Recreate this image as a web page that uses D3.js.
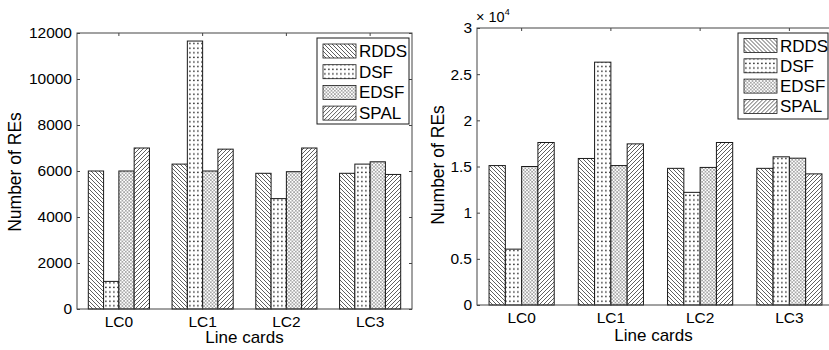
<!DOCTYPE html>
<html>
<head>
<meta charset="utf-8">
<script src="https://cdn.jsdelivr.net/npm/d3@7"></script>
<style>
  body { margin: 0; background: #fff; }
  svg { display: block; font-family: "Liberation Sans", Arial, sans-serif; }
</style>
</head>
<body>
<svg id="chart" width="829" height="350"></svg>
<script>
// data
var categories = ["LC0", "LC1", "LC2", "LC3"];
var seriesNames = ["RDDS", "DSF", "EDSF", "SPAL"];

// left panel
var rddsLeft = [6000, 6300, 5900, 5900];
var dsfLeft = [1200, 11650, 4800, 6300];
var edsfLeft = [6000, 6000, 5970, 6400];
var spalLeft = [7000, 6950, 7000, 5850];
var ticksLeft = [0, 2000, 4000, 6000, 8000, 10000, 12000];

// right panel (x 10^4)
var rddsRight = [15100, 15870, 14800, 14800];
var dsfRight = [6050, 26300, 12200, 16050];
var edsfRight = [15000, 15100, 14900, 15900];
var spalRight = [17600, 17450, 17600, 14200];
var ticksRight = [0, 5000, 10000, 15000, 20000, 25000, 30000];

var svg = d3.select("#chart");
var defs = svg.append("defs");
var ink = "#1a1a1a";

// hatch patterns
function hatch(id, d, size, width, color) {
    var p = defs.append("pattern")
        .attr("id", id)
        .attr("patternUnits", "userSpaceOnUse")
        .attr("width", size).attr("height", size);
    p.append("rect").attr("width", size).attr("height", size).attr("fill", "#fff");
    d.forEach(function(path) {
        p.append("path").attr("d", path)
            .attr("stroke", color).attr("stroke-width", width).attr("fill", "none");
    });
    return p;
}
// RDDS: back slash
hatch("pRDDS", ["M0,0 L4,4", "M-1,3 L1,5", "M3,-1 L5,1"], 4, 0.7, ink);
// SPAL: forward slash
hatch("pSPAL", ["M0,4 L4,0", "M-1,1 L1,-1", "M3,5 L5,3"], 4, 0.7, ink);
// EDSF: dense cross hatch
hatch("pEDSF", ["M0,0 L3.4,3.4", "M0,3.4 L3.4,0"], 3.4, 0.5, "#666");
// DSF: dots
var dots = defs.append("pattern")
    .attr("id", "pDSF")
    .attr("patternUnits", "userSpaceOnUse")
    .attr("width", 4).attr("height", 4.6);
dots.append("rect").attr("width", 4).attr("height", 4.6).attr("fill", "#fff");
dots.append("rect").attr("x", 1.2).attr("y", 1.5).attr("width", 1.4).attr("height", 1.4).attr("fill", ink);

var fills = {RDDS: "url(#pRDDS)", DSF: "url(#pDSF)", EDSF: "url(#pEDSF)", SPAL: "url(#pSPAL)"};

function drawPanel(cfg) {
    var g = svg.append("g");
    var series = [cfg.rdds, cfg.dsf, cfg.edsf, cfg.spal];

    var x0 = d3.scaleBand()
        .domain(categories)
        .range([cfg.left, cfg.right])
        .padding(0);
    var groupW = x0.bandwidth() * 0.73;
    var x1 = d3.scaleBand()
        .domain(seriesNames)
        .range([0, groupW])
        .padding(0);
    var y = d3.scaleLinear()
        .domain([0, cfg.max])
        .range([cfg.bottom, cfg.top]);

    // bars
    categories.forEach(function(cat, ci) {
        var gx = x0(cat) + (x0.bandwidth() - groupW) / 2;
        g.selectAll(".bar-" + ci)
            .data(seriesNames.map(function(s, si) { return {s: s, v: series[si][ci]}; }))
            .enter()
            .append("rect")
            .attr("x", function(d) { return gx + x1(d.s); })
            .attr("y", function(d) { return y(d.v); })
            .attr("width", x1.bandwidth())
            .attr("height", function(d) { return cfg.bottom - y(d.v); })
            .attr("fill", function(d) { return fills[d.s]; })
            .attr("stroke", ink)
            .attr("stroke-width", 1);
    });

    // axes, MATLAB style ticks inside
    var yAxis = d3.axisLeft(y).tickValues(cfg.ticks).tickSize(-3).tickPadding(5)
        .tickFormat(cfg.fmt);
    g.append("g").attr("transform", `translate(${cfg.left},0)`).call(yAxis);
    g.append("g").attr("transform", `translate(${cfg.right},0)`)
        .call(d3.axisRight(y).tickValues(cfg.ticks).tickSize(-3).tickFormat(""));
    g.append("g").attr("transform", `translate(0,${cfg.bottom})`)
        .call(d3.axisBottom(x0).tickSize(-3).tickPadding(7));
    g.append("g").attr("transform", `translate(0,${cfg.top})`)
        .call(d3.axisTop(x0).tickSize(-3).tickFormat(""));

    g.selectAll(".domain").remove();
    g.selectAll(".tick line").attr("stroke", "#444");
    g.selectAll(".tick text")
        .attr("fill", "#000")
        .attr("font-size", 15.5)
        .attr("font-family", "Liberation Sans, Arial, sans-serif");

    g.append("rect")
        .attr("x", cfg.left).attr("y", cfg.top)
        .attr("width", cfg.right - cfg.left).attr("height", cfg.bottom - cfg.top)
        .attr("fill", "none").attr("stroke", "#444").attr("stroke-width", 1);

    // axis labels
    g.append("text")
        .attr("x", (cfg.left + cfg.right) / 2 + cfg.xLabelShift)
        .attr("y", cfg.xLabelY)
        .attr("text-anchor", "middle")
        .attr("font-size", 17)
        .attr("fill", "#000")
        .text("Line cards");
    g.append("text")
        .attr("transform", `translate(${cfg.yLabelX},${cfg.yLabelY}) rotate(-90)`)
        .attr("text-anchor", "middle")
        .attr("font-size", 17.5)
        .attr("fill", "#000")
        .text("Number of REs");

    // legend
    var lg = g.append("g").attr("transform", `translate(${cfg.legX},${cfg.legY})`);
    lg.append("rect")
        .attr("width", cfg.legW).attr("height", cfg.legH)
        .attr("fill", "#fff").attr("stroke", ink).attr("stroke-width", 1);
    var rows = lg.selectAll(".legrow")
        .data(seriesNames)
        .enter()
        .append("g")
        .attr("transform", (d, i) => `translate(6,${cfg.legFirst + i * cfg.legStep})`);
    rows.append("rect")
        .attr("y", -7).attr("width", 33).attr("height", 14)
        .attr("fill", d => fills[d])
        .attr("stroke", ink).attr("stroke-width", 0.8);
    rows.append("text")
        .attr("x", 36).attr("y", 6)
        .attr("font-size", 17)
        .attr("fill", "#000")
        .text(d => d);

    return g;
}

drawPanel({
    rdds: rddsLeft, dsf: dsfLeft, edsf: edsfLeft, spal: spalLeft,
    ticks: ticksLeft, max: 12000, fmt: d3.format("d"),
    left: 77, right: 412, top: 33, bottom: 309,
    xLabelY: 343, xLabelShift: 0, yLabelX: 21, yLabelY: 172,
    legX: 317, legY: 38, legW: 92, legH: 86, legFirst: 13, legStep: 20.7
});

var right = drawPanel({
    rdds: rddsRight, dsf: dsfRight, edsf: edsfRight, spal: spalRight,
    ticks: ticksRight, max: 30000, fmt: d => d / 10000,
    left: 477, right: 834, top: 28, bottom: 305,
    xLabelY: 341, xLabelShift: -2, yLabelX: 444, yLabelY: 165,
    legX: 738, legY: 33, legW: 90, legH: 86, legFirst: 12.5, legStep: 20.3
});

// exponent label
var exp = right.append("text")
    .attr("x", 476).attr("y", 22)
    .attr("font-size", 14.5)
    .attr("fill", "#000");
exp.append("tspan").text("\u00d7 10");
exp.append("tspan").attr("dy", -7).attr("font-size", 9).text("4");
</script>
</body>
</html>
